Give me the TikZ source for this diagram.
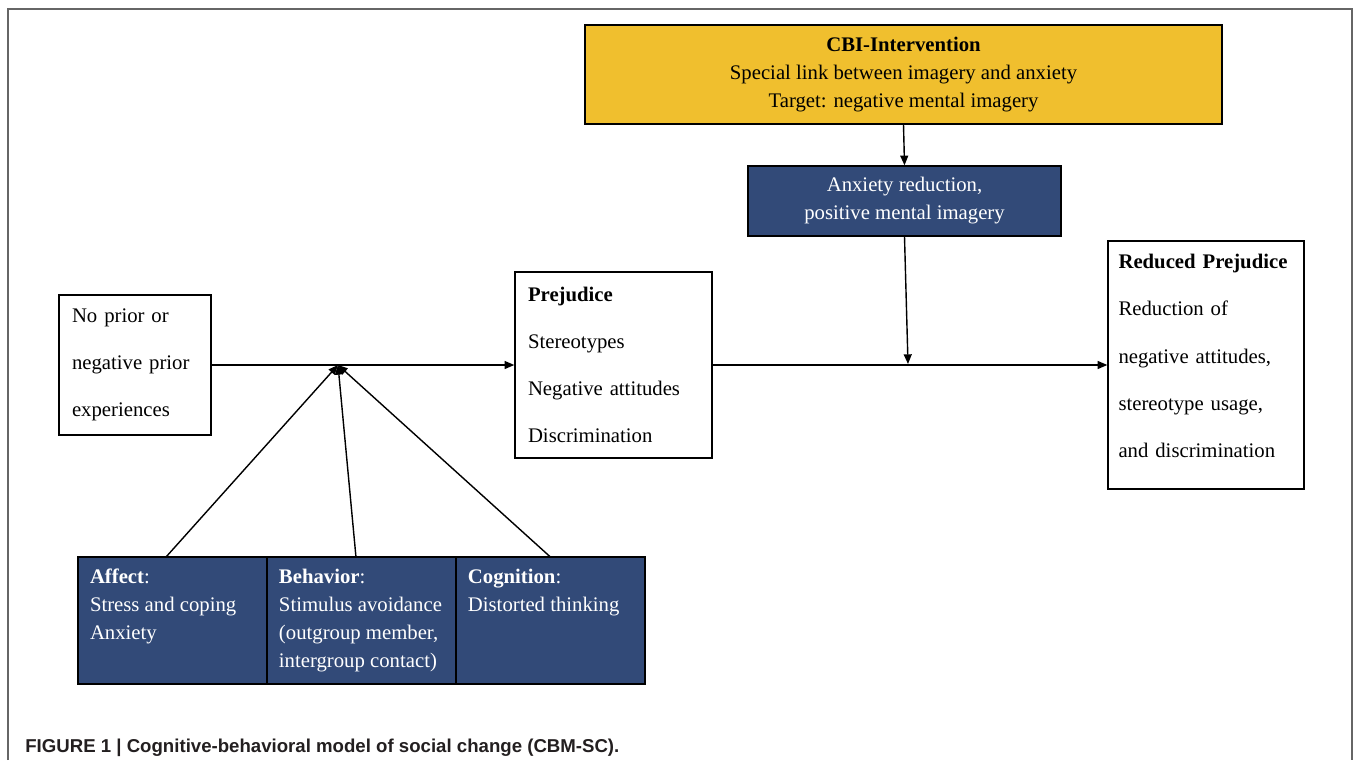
\documentclass[tikz,border=0pt]{standalone}
\usepackage{fontspec}
\setmainfont{Liberation Serif}
\newfontfamily\captionfont{Liberation Sans}
\usetikzlibrary{positioning}
\usetikzlibrary{arrows.meta}
\definecolor{cbigold}{HTML}{F0BF2E}
\definecolor{modelnavy}{HTML}{324A78}
\definecolor{framegray}{HTML}{666666}
\definecolor{captionblack}{HTML}{231F20}
\newcommand{\boxfont}{\fontsize{11.8}{15.9}\selectfont}
\newcommand{\listfont}{\fontsize{11.8}{26.9}\selectfont}
\newcommand{\toptext}[1]{\parbox[c][2.06cm][t]{3.3cm}{\raggedright #1}}
\tikzstyle{plain box} = [rectangle, draw, line width=0.8pt, inner xsep=0.26cm, align=left, font=\listfont]
\tikzstyle{gold box} = [rectangle, draw, line width=0.8pt, fill=cbigold, align=center, font=\boxfont]
\tikzstyle{navy box} = [rectangle, draw, line width=0.8pt, fill=modelnavy, text=white, align=center, font=\boxfont]
\tikzstyle{component} = [navy box, outer sep=0pt, inner xsep=0.24cm, inner ysep=0.24cm, minimum width=3.78cm, minimum height=2.54cm]
\tikzstyle{link} = [line width=0.8pt, -{Triangle[length=5.5pt,width=4.5pt]}]

\begin{document}
\begin{tikzpicture}[x=0.02cm, y=-0.02cm]
  \useasboundingbox (0,0) rectangle (1354,760);
  \draw[framegray, line width=0.9pt] (8,760) -- (8,9) -- (1352,9) -- (1352,760);

  \node[gold box, minimum width=12.74cm, minimum height=1.98cm] (cbi) at (903.5,74.5) {\textbf{CBI-Intervention}\\Special link between imagery and anxiety\\Target: negative mental imagery};
  \node[navy box, minimum width=6.26cm, minimum height=1.4cm] (reduction) at (904.5,201) {Anxiety reduction,\\positive mental imagery};

  \node[plain box, minimum width=3.04cm, minimum height=2.8cm, text width=2.52cm] (noprior) at (135,365) {No prior or\\negative prior\\experiences};
  \node[plain box, minimum width=3.94cm, minimum height=3.72cm, text width=3.42cm] (prejudice) at (613.5,365) {\textbf{Prejudice}\\Stereotypes\\Negative attitudes\\Discrimination};
  \node[plain box, inner xsep=0.21cm, minimum width=3.92cm, minimum height=4.96cm, text width=3.5cm] (reduced) at (1206,365) {\textbf{Reduced Prejudice}\\Reduction of\\negative attitudes,\\stereotype usage,\\and discrimination\rule[-0.36cm]{0pt}{0.36cm}};

  \node[component] (affect) at (172.5,620.5) {\toptext{\textbf{Affect}:\\Stress and coping\\Anxiety}};
  \node[component] (behavior) [right=0pt of affect] {\toptext{\textbf{Behavior}:\\Stimulus avoidance\\(outgroup member,\\intergroup contact)}};
  \node[component] (cognition) [right=0pt of behavior] {\toptext{\textbf{Cognition}:\\Distorted thinking}};

  \coordinate (merge) at (338,365);
  \coordinate (drop) at (908,364);

  \draw[link] (noprior.east) -- (prejudice.west);
  \draw[link] ([xshift=-0.13cm]affect.north) -- (merge);
  \draw[link] ([xshift=-0.11cm]behavior.north) -- (merge);
  \draw[link] (cognition.north) -- (merge);
  \draw[link] (cbi.south) -- (reduction.north);
  \draw[link] (reduction.south) -- (drop);
  \draw[link] (prejudice.east) -- (reduced.west);

  \node[anchor=base west, text=captionblack, inner sep=0pt, font={\captionfont\bfseries\fontsize{10.6}{12}\selectfont}] (caption) at (25,752) {FIGURE 1 | Cognitive-behavioral model of social change (CBM-SC).};
\end{tikzpicture}
\end{document}
